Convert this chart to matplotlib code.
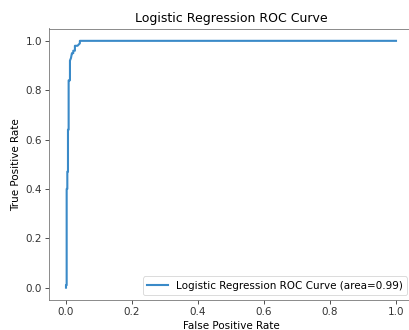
import matplotlib
matplotlib.use("Agg")
import matplotlib.pyplot as plt

fpr = [0.0, 0.0, 0.002, 0.002, 0.004, 0.004, 0.006, 0.006, 0.008, 0.008, 0.012, 0.012,
       0.015, 0.018, 0.022, 0.022, 0.027, 0.027, 0.035, 0.042, 0.042, 1.0]
tpr = [0.0, 0.01, 0.01, 0.40, 0.40, 0.47, 0.47, 0.64, 0.64, 0.84, 0.84, 0.92,
       0.93, 0.95, 0.95, 0.96, 0.96, 0.98, 0.98, 0.99, 1.0, 1.0]
roc_auc = 0.99
xticks = [0.0, 0.2, 0.4, 0.6, 0.8, 1.0]
yticks = [0.0, 0.2, 0.4, 0.6, 0.8, 1.0]

s = 0.75
fig = plt.figure(figsize=(4.1, 3.3), dpi=100)
ax = fig.add_axes([49.5 / 410, 30 / 330, 363 / 410, 271.5 / 330])
ax.plot(fpr, tpr, color="#3a8ac8", lw=1.5,
        label="Logistic Regression ROC Curve (area=%0.2f)" % roc_auc)
ax.set_xlim(-0.05, 1.05)
ax.set_ylim(-0.05, 1.05)
ax.set_xticks(xticks)
ax.set_yticks(yticks)
ax.tick_params(labelsize=10 * s, length=3.5 * s, width=0.8 * s, pad=3.5 * s,
               colors="#333333")
for sp in ax.spines.values():
    sp.set_color("#777777")
    sp.set_linewidth(0.8 * s)
ax.set_xlabel("False Positive Rate", fontsize=10 * s, labelpad=4 * s)
ax.set_ylabel("True Positive Rate", fontsize=10 * s, labelpad=4 * s)
ax.set_title("Logistic Regression ROC Curve", fontsize=12 * s, pad=6 * s)
leg = ax.legend(loc="lower right", fontsize=10 * s)
leg.get_frame().set_linewidth(0.8 * s)
fig.savefig("out.png", dpi=100)
